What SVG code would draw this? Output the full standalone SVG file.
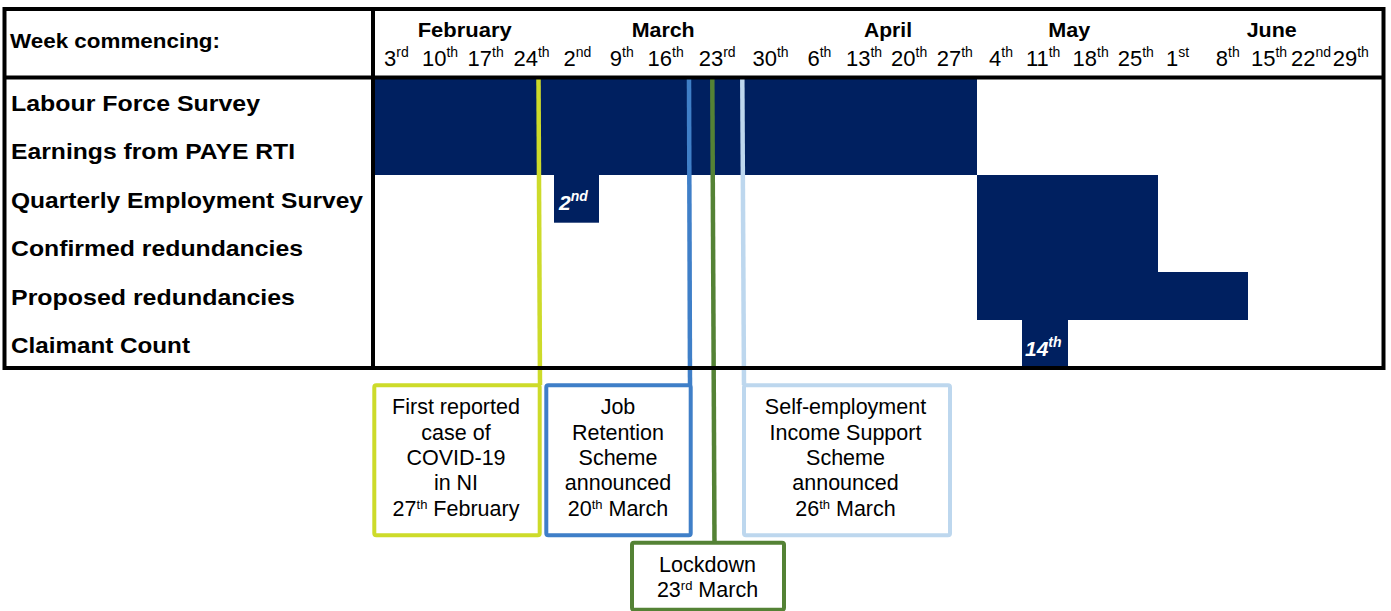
<svg xmlns="http://www.w3.org/2000/svg" width="1391" height="611" viewBox="0 0 1391 611">
<style>
text{font-family:"Liberation Sans",Arial,sans-serif;fill:#000}
.hd{font-size:20.5px;font-weight:bold}
.mo{font-size:20px;font-weight:bold}
.wk{font-size:22px}
.sup{font-size:14px}
.row{font-size:22px;font-weight:bold}
.bar{fill:#002060}
.bl{font-size:21px;font-weight:bold;font-style:italic;fill:#fff}
.bl .sup{font-size:14px;fill:#fff}
.frame{fill:none;stroke:#000;stroke-width:4}
.box{fill:#fff;stroke-width:4}
.bt{font-size:21.5px;text-anchor:middle}
.bs{font-size:13px}
.conn{stroke-width:4.5;fill:none}
</style>
<rect width="1391" height="611" fill="#fff"/>
<g id="bars">
<rect class="bar" x="375" y="79" width="602" height="96"/>
<rect class="bar" x="554" y="175" width="45" height="47.7"/>
<rect class="bar" x="977" y="175" width="181" height="145"/>
<rect class="bar" x="1158" y="272" width="90" height="48"/>
<rect class="bar" x="1022" y="320" width="46" height="47"/>
<text class="bl" x="559" y="210">2<tspan class="sup" dy="-9">nd</tspan></text>
<text class="bl" x="1025" y="356">14<tspan class="sup" dy="-9">th</tspan></text>
</g>
<g id="connectors">
<line class="conn" x1="538.5" y1="79" x2="540" y2="385" stroke="#CDDB2A"/>
<line class="conn" x1="689" y1="79" x2="690" y2="385" stroke="#3F7FC8"/>
<line class="conn" x1="712.3" y1="79" x2="714.5" y2="543" stroke="#548235"/>
<line class="conn" x1="742.3" y1="79" x2="744" y2="385" stroke="#BDD7EE"/>
</g>
<g id="table-frame">
<rect class="frame" x="4.5" y="9" width="1379" height="359"/>
<line class="frame" x1="373" y1="9" x2="373" y2="368"/>
<line class="frame" x1="4.5" y1="77.5" x2="1383.5" y2="77.5"/>
</g>
<g id="header">
<text class="hd" x="10" y="47.7" textLength="210" lengthAdjust="spacingAndGlyphs">Week commencing:</text>
<text class="mo" x="417.7" y="36.7" textLength="94" lengthAdjust="spacingAndGlyphs">February</text>
<text class="mo" x="631.7" y="36.7" textLength="63" lengthAdjust="spacingAndGlyphs">March</text>
<text class="mo" x="864" y="36.7" textLength="48" lengthAdjust="spacingAndGlyphs">April</text>
<text class="mo" x="1048.3" y="36.7" textLength="42" lengthAdjust="spacingAndGlyphs">May</text>
<text class="mo" x="1246.7" y="36.7" textLength="50" lengthAdjust="spacingAndGlyphs">June</text>
<g class="wk">
<text class="wk" x="384" y="66">3<tspan class="sup" dy="-9.5">rd</tspan></text>
<text class="wk" x="422" y="66">10<tspan class="sup" dy="-9.5">th</tspan></text>
<text class="wk" x="467.6" y="66">17<tspan class="sup" dy="-9.5">th</tspan></text>
<text class="wk" x="513.4" y="66">24<tspan class="sup" dy="-9.5">th</tspan></text>
<text class="wk" x="563.4" y="66">2<tspan class="sup" dy="-9.5">nd</tspan></text>
<text class="wk" x="609.8" y="66">9<tspan class="sup" dy="-9.5">th</tspan></text>
<text class="wk" x="647.6" y="66">16<tspan class="sup" dy="-9.5">th</tspan></text>
<text class="wk" x="698.7" y="66">23<tspan class="sup" dy="-9.5">rd</tspan></text>
<text class="wk" x="752.4" y="66">30<tspan class="sup" dy="-9.5">th</tspan></text>
<text class="wk" x="807.4" y="66">6<tspan class="sup" dy="-9.5">th</tspan></text>
<text class="wk" x="845.9" y="66">13<tspan class="sup" dy="-9.5">th</tspan></text>
<text class="wk" x="891.1" y="66">20<tspan class="sup" dy="-9.5">th</tspan></text>
<text class="wk" x="936.7" y="66">27<tspan class="sup" dy="-9.5">th</tspan></text>
<text class="wk" x="989.1" y="66">4<tspan class="sup" dy="-9.5">th</tspan></text>
<text class="wk" x="1025.9" y="66">11<tspan class="sup" dy="-9.5">th</tspan></text>
<text class="wk" x="1072.6" y="66">18<tspan class="sup" dy="-9.5">th</tspan></text>
<text class="wk" x="1117.7" y="66">25<tspan class="sup" dy="-9.5">th</tspan></text>
<text class="wk" x="1165.9" y="66">1<tspan class="sup" dy="-9.5">st</tspan></text>
<text class="wk" x="1215.8" y="66">8<tspan class="sup" dy="-9.5">th</tspan></text>
<text class="wk" x="1250.9" y="66">15<tspan class="sup" dy="-9.5">th</tspan></text>
<text class="wk" x="1291.1" y="66">22<tspan class="sup" dy="-9.5">nd</tspan></text>
<text class="wk" x="1332.7" y="66">29<tspan class="sup" dy="-9.5">th</tspan></text>
</g>
</g>
<g id="row-labels">
<text class="row" x="11" y="110.5" textLength="249" lengthAdjust="spacingAndGlyphs">Labour Force Survey</text>
<text class="row" x="11" y="159" textLength="284" lengthAdjust="spacingAndGlyphs">Earnings from PAYE RTI</text>
<text class="row" x="11" y="207.5" textLength="352" lengthAdjust="spacingAndGlyphs">Quarterly Employment Survey</text>
<text class="row" x="11" y="256" textLength="292" lengthAdjust="spacingAndGlyphs">Confirmed redundancies</text>
<text class="row" x="11" y="304.5" textLength="284" lengthAdjust="spacingAndGlyphs">Proposed redundancies</text>
<text class="row" x="11" y="353" textLength="179" lengthAdjust="spacingAndGlyphs">Claimant Count</text>
</g>
<g id="box-first-case">
<rect class="box" x="374.3" y="385.3" width="165.4" height="150" rx="2" stroke="#CDDB2A"/>
<text class="bt" x="456" y="414.3">First reported</text>
<text class="bt" x="456" y="439.6">case of</text>
<text class="bt" x="456" y="464.9">COVID-19</text>
<text class="bt" x="456" y="490.2">in NI</text>
<text class="bt" x="456" y="515.5">27<tspan class="bs" dy="-7">th</tspan><tspan dy="7"> February</tspan></text>
</g>
<g id="box-job-retention">
<rect class="box" x="546.3" y="385.3" width="144.4" height="150" rx="2" stroke="#3F7FC8"/>
<text class="bt" x="618" y="414.3">Job</text>
<text class="bt" x="618" y="439.6">Retention</text>
<text class="bt" x="618" y="464.9">Scheme</text>
<text class="bt" x="618" y="490.2">announced</text>
<text class="bt" x="618" y="515.5">20<tspan class="bs" dy="-7">th</tspan><tspan dy="7"> March</tspan></text>
</g>
<g id="box-self-employment">
<rect class="box" x="744" y="385.3" width="206" height="150" rx="2" stroke="#BDD7EE"/>
<text class="bt" x="845.5" y="414.3">Self-employment</text>
<text class="bt" x="845.5" y="439.6">Income Support</text>
<text class="bt" x="845.5" y="464.9">Scheme</text>
<text class="bt" x="845.5" y="490.2">announced</text>
<text class="bt" x="845.5" y="515.5">26<tspan class="bs" dy="-7">th</tspan><tspan dy="7"> March</tspan></text>
</g>
<g id="box-lockdown">
<rect class="box" x="632" y="542.7" width="152" height="67" rx="2" stroke="#548235"/>
<text class="bt" x="707.5" y="571.7">Lockdown</text>
<text class="bt" x="707.5" y="596.7">23<tspan class="bs" dy="-7">rd</tspan><tspan dy="7"> March</tspan></text>
</g>
</svg>
